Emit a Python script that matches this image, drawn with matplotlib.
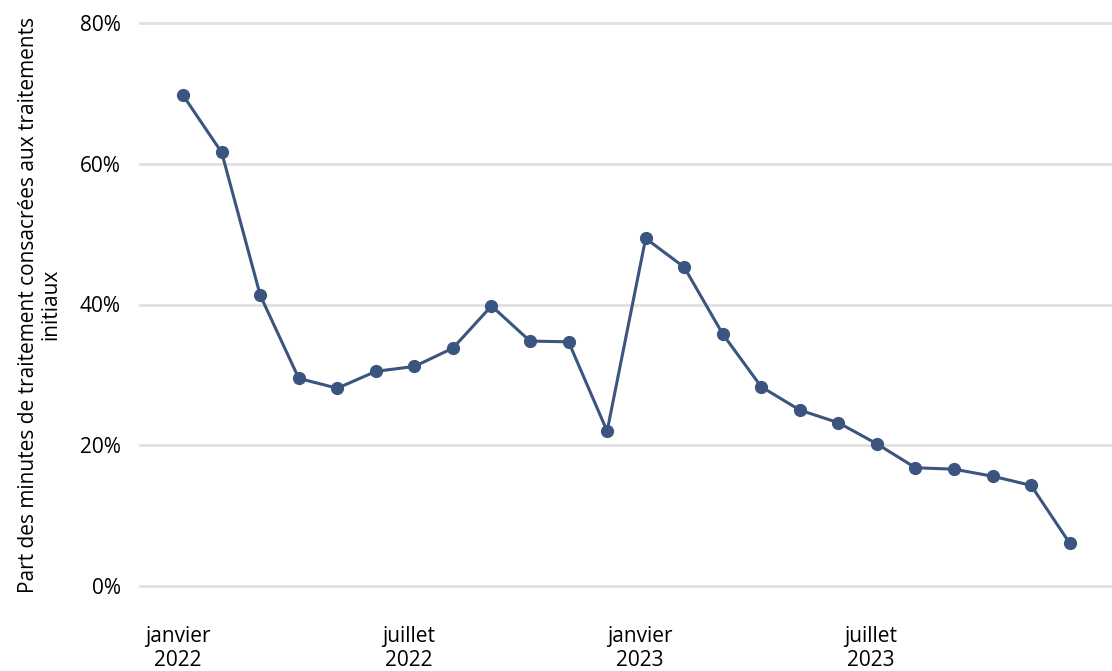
#!/usr/bin/env python3
"""Part des minutes de traitement consacrées aux traitements initiaux, 2022-2023."""

import matplotlib.pyplot as plt

months = list(range(24))  # janvier 2022 .. décembre 2023
share = [69.7, 61.6, 41.3, 29.5, 28.1, 30.5, 31.2, 33.8, 39.8, 34.8, 34.7, 22.0,
         49.4, 45.3, 35.8, 28.3, 25.0, 23.2, 20.2, 16.8, 16.6, 15.6, 14.3, 6.1]
tick_months = [0, 6, 12, 18]
tick_labels = ["janvier\n2022", "juillet\n2022", "janvier\n2023", "juillet\n2023"]
y_ticks = [0, 20, 40, 60, 80]

plt.rcParams['font.family'] = ['Open Sans', 'DejaVu Sans']

fig = plt.figure(figsize=(11.12, 6.71), dpi=100)
ax = fig.add_axes([140 / 1112, 1 - 586 / 671, 1 - 140 / 1112, (586 - 23) / 671])

# Ligne avec marqueurs
ax.plot(months, share, color='#3b5580', linewidth=2.2, marker='o',
        markersize=8.5, zorder=3)

ax.set_ylim(0, 80)
ax.set_xlim(-1.12, 24.1)
ax.set_yticks(y_ticks)
ax.set_yticklabels([f"{v}%" for v in y_ticks])
ax.set_xticks([m - 0.15 for m in tick_months])
ax.set_xticklabels(tick_labels)

ax.grid(axis='y', color='#e0e0e0', linewidth=2)
for gl in ax.get_ygridlines():
    gl.set_clip_on(False)
ax.set_axisbelow(True)
for s in ax.spines.values():
    s.set_visible(False)
ax.tick_params(axis='both', length=0, labelsize=15, colors='black')
ax.tick_params(axis='x', pad=29)
ax.tick_params(axis='y', pad=14)

ax.set_ylabel("Part des minutes de traitement consacrées aux traitements\ninitiaux",
              fontsize=15, linespacing=1.05)
ax.yaxis.set_label_coords(-0.081, 0.5)

fig.savefig('out.png', dpi=100)
